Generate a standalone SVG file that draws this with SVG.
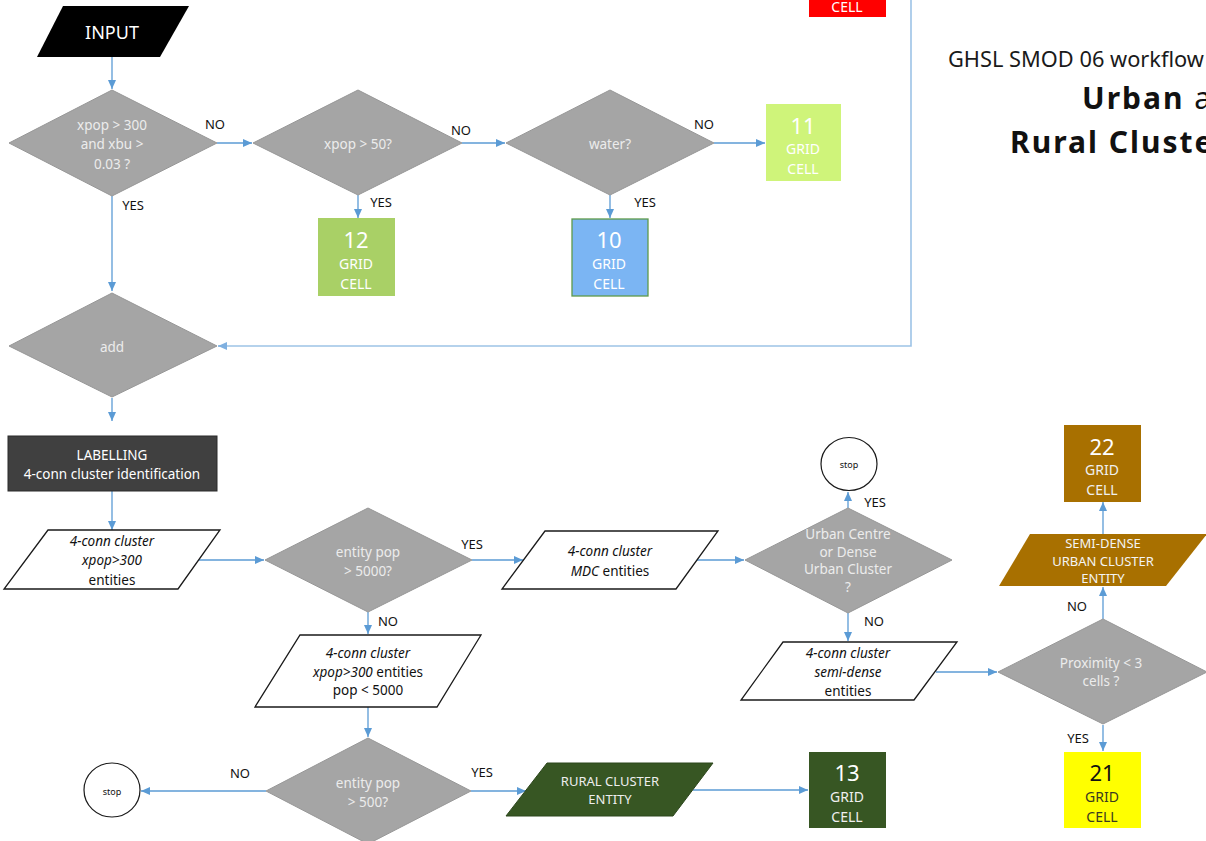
<svg xmlns="http://www.w3.org/2000/svg" width="1206" height="841" viewBox="0 0 1206 841">
  <style>
    text { font-family: "Noto Sans", "Open Sans", sans-serif; dominant-baseline: central; text-anchor: middle; }
    .dia { fill: #a5a5a5; stroke: #979797; stroke-width: 1; }
    .dtx { fill: #ececec; font-size: 13.5px; }
    .io { fill: #ffffff; stroke: #1a1a1a; stroke-width: 1.3; }
    .iotx { fill: #111111; font-size: 13.5px; }
    .it { font-style: italic; }
    .lbl { fill: #111111; font-size: 13px; }
    .num { font-size: 22px; }
    .cell { font-size: 14px; }
    .wh { fill: #ffffff; }
    .edge { fill: none; stroke: #5b9bd5; stroke-width: 1.3; marker-end: url(#arr); }
    .loop { fill: none; stroke: #9dc3e6; stroke-width: 1.6; }
    .stop { fill: #ffffff; stroke: #1a1a1a; stroke-width: 1.2; }
    .stoptx { fill: #111111; font-size: 9px; }
    .head { text-anchor: start; font-size: 30px; letter-spacing: 2px; fill: #111111; }
  </style>
  <defs>
    <marker id="arr" markerUnits="userSpaceOnUse" markerWidth="9" markerHeight="8" refX="9" refY="4" orient="auto">
      <path d="M0,0 L9,4 L0,8 z" fill="#5b9bd5"/>
    </marker>
    <marker id="arrL" markerUnits="userSpaceOnUse" markerWidth="9" markerHeight="8" refX="9" refY="4" orient="auto">
      <path d="M0,0 L9,4 L0,8 z" fill="#7fb0e0"/>
    </marker>
  </defs>

  <rect width="1206" height="841" fill="#ffffff"/>

  <!-- title, running off the right edge -->
  <g id="title">
    <text x="948" y="58" style="text-anchor:start;font-size:21.8px;fill:#1a1a1a">GHSL SMOD 06 workflow</text>
    <text class="head" x="1082" y="97"><tspan font-weight="bold">Urban</tspan> and</text>
    <text class="head" x="1010" y="141" font-weight="bold">Rural Cluster</text>
  </g>

  <!-- connectors -->
  <g id="connectors">
    <path class="edge" d="M112,57 V89"/>
    <path class="edge" d="M217,143 H252"/>
    <path class="edge" d="M358,195 V218"/>
    <path class="edge" d="M462,143 H505"/>
    <path class="edge" d="M610,195 V218"/>
    <path class="edge" d="M714,143 H765"/>
    <path class="edge" d="M112,196 V291"/>
    <path class="loop" d="M911,0 V346 H226"/>
    <path d="M226,346 H218" stroke="#7fb0e0" stroke-width="1.6" marker-end="url(#arrL)"/>
    <path class="edge" d="M112,398 V421"/>
    <path class="edge" d="M112,491 V530"/>
    <path class="edge" d="M199,560 H264"/>
    <path class="edge" d="M472,560 H523"/>
    <path class="edge" d="M697,560 H744"/>
    <path class="edge" d="M848,508 V492"/>
    <path class="edge" d="M848,613 V641"/>
    <path class="edge" d="M936,672 H997"/>
    <path class="edge" d="M1103,619 V587"/>
    <path class="edge" d="M1103,534 V502"/>
    <path class="edge" d="M1103,725 V751"/>
    <path class="edge" d="M368,612 V634"/>
    <path class="edge" d="M368,707 V737"/>
    <path class="edge" d="M266,791 H141"/>
    <path class="edge" d="M471,791 H526"/>
    <path class="edge" d="M693,790 H808"/>
  </g>

  <!-- branch labels -->
  <g id="labels">
    <text class="lbl" x="215" y="124">NO</text>
    <text class="lbl" x="133" y="205">YES</text>
    <text class="lbl" x="461" y="130">NO</text>
    <text class="lbl" x="381" y="202">YES</text>
    <text class="lbl" x="704" y="124">NO</text>
    <text class="lbl" x="645" y="202">YES</text>
    <text class="lbl" x="472" y="544">YES</text>
    <text class="lbl" x="388" y="621">NO</text>
    <text class="lbl" x="875" y="502">YES</text>
    <text class="lbl" x="874" y="621">NO</text>
    <text class="lbl" x="1077" y="606">NO</text>
    <text class="lbl" x="1078" y="738">YES</text>
    <text class="lbl" x="240" y="773">NO</text>
    <text class="lbl" x="482" y="772">YES</text>
  </g>

  <g id="input">
    <polygon points="63,6 189,6 160,57 37,57" fill="#000000"/>
    <text x="112" y="32" class="wh" style="font-size:18px">INPUT</text>
  </g>

  <g id="cell-red">
    <rect x="809" y="-60" width="77" height="77" fill="#ff0000"/>
    <text x="847" y="6" class="wh cell">CELL</text>
  </g>

  <g id="dec-xpop300">
    <polygon class="dia" points="9,143 112,90 217,143 112,196"/>
    <text class="dtx" x="112" y="125">xpop &gt; 300</text>
    <text class="dtx" x="112" y="144">and xbu &gt;</text>
    <text class="dtx" x="112" y="164">0.03 ?</text>
  </g>

  <g id="dec-xpop50">
    <polygon class="dia" points="253,143 358,90 462,143 358,195"/>
    <text class="dtx" x="358" y="144">xpop &gt; 50?</text>
  </g>

  <g id="dec-water">
    <polygon class="dia" points="506,143 610,90 714,143 610,195"/>
    <text class="dtx" x="610" y="144">water?</text>
  </g>

  <g id="cell-11">
    <rect x="766" y="104" width="75" height="77" fill="#cff47a"/>
    <text x="803" y="125" class="wh num">11</text>
    <text x="803" y="148" class="wh cell">GRID</text>
    <text x="803" y="168" class="wh cell">CELL</text>
  </g>

  <g id="cell-12">
    <rect x="318" y="218" width="77" height="78" fill="#a9d066"/>
    <text x="356" y="239" class="wh num">12</text>
    <text x="356" y="263" class="wh cell">GRID</text>
    <text x="356" y="283" class="wh cell">CELL</text>
  </g>

  <g id="cell-10">
    <rect x="572" y="219" width="76" height="77" fill="#7bb5f3" stroke="#5e9a4a" stroke-width="1.3"/>
    <text x="609" y="239" class="wh num">10</text>
    <text x="609" y="263" class="wh cell">GRID</text>
    <text x="609" y="283" class="wh cell">CELL</text>
  </g>

  <g id="dec-add">
    <polygon class="dia" points="9,346 112,293 217,346 112,397"/>
    <text class="dtx" x="112" y="347">add</text>
  </g>

  <g id="labelling">
    <rect x="8" y="436" width="209" height="55" fill="#404040" stroke="#2a2a2a" stroke-width="1"/>
    <text x="112" y="455" class="wh" style="font-size:13.5px">LABELLING</text>
    <text x="112" y="474" class="wh" style="font-size:13.5px">4-conn cluster identification</text>
  </g>

  <g id="io-xpop300">
    <polygon class="io" points="48,530 220,530 178,589 4,589"/>
    <text class="iotx it" x="112" y="541">4-conn cluster</text>
    <text class="iotx it" x="112" y="560">xpop&gt;300</text>
    <text class="iotx" x="112" y="580">entities</text>
  </g>

  <g id="dec-pop5000">
    <polygon class="dia" points="265,560 368,508 472,560 368,612"/>
    <text class="dtx" x="368" y="552">entity pop</text>
    <text class="dtx" x="368" y="571">&gt; 5000?</text>
  </g>

  <g id="io-mdc">
    <polygon class="io" points="545,531 718,531 676,589 502,589"/>
    <text class="iotx it" x="610" y="551">4-conn cluster</text>
    <text class="iotx" x="610" y="571"><tspan font-style="italic">MDC</tspan> entities</text>
  </g>

  <g id="dec-ucdc">
    <polygon class="dia" points="745,560 848,508 952,560 848,613"/>
    <text class="dtx" x="848" y="534">Urban Centre</text>
    <text class="dtx" x="848" y="552">or Dense</text>
    <text class="dtx" x="848" y="569">Urban Cluster</text>
    <text class="dtx" x="848" y="587">?</text>
  </g>

  <g id="stop-top">
    <ellipse class="stop" cx="849" cy="464" rx="28" ry="26.5"/>
    <text class="stoptx" x="849" y="464">stop</text>
  </g>

  <g id="io-semidense">
    <polygon class="io" points="783,642 957,642 914,700 741,700"/>
    <text class="iotx it" x="848" y="653">4-conn cluster</text>
    <text class="iotx it" x="848" y="672">semi-dense</text>
    <text class="iotx" x="848" y="691">entities</text>
  </g>

  <g id="dec-proximity">
    <polygon class="dia" points="998,672 1103,619 1207,672 1103,724"/>
    <text class="dtx" x="1101" y="663">Proximity &lt; 3</text>
    <text class="dtx" x="1101" y="681">cells ?</text>
  </g>

  <g id="io-semidense-entity">
    <polygon points="1030,534 1207,534 1166,586 999,586" fill="#a87000"/>
    <text x="1103" y="543" style="fill:#f4f4f4;font-size:13px">SEMI-DENSE</text>
    <text x="1103" y="561" style="fill:#f4f4f4;font-size:13px">URBAN CLUSTER</text>
    <text x="1103" y="578" style="fill:#f4f4f4;font-size:13px">ENTITY</text>
  </g>

  <g id="cell-22">
    <rect x="1064" y="425" width="77" height="77" fill="#a87000"/>
    <text x="1102" y="446" class="wh num">22</text>
    <text x="1102" y="469" style="fill:#f0f0f0;font-size:14px">GRID</text>
    <text x="1102" y="489" style="fill:#f0f0f0;font-size:14px">CELL</text>
  </g>

  <g id="cell-21">
    <rect x="1064" y="752" width="77" height="76" fill="#ffff00"/>
    <text x="1102" y="772" class="num" style="fill:#111">21</text>
    <text x="1102" y="796" style="fill:#3a3a20;font-size:14px">GRID</text>
    <text x="1102" y="816" style="fill:#3a3a20;font-size:14px">CELL</text>
  </g>

  <g id="io-pop-lt-5000">
    <polygon class="io" points="300,635 481,635 437,707 255,707"/>
    <text class="iotx it" x="368" y="653">4-conn cluster</text>
    <text class="iotx" x="368" y="672"><tspan font-style="italic">xpop&gt;300</tspan> entities</text>
    <text class="iotx" x="368" y="690">pop &lt; 5000</text>
  </g>

  <g id="dec-pop500">
    <polygon class="dia" points="266,791 368,738 471,791 368,844"/>
    <text class="dtx" x="368" y="783">entity pop</text>
    <text class="dtx" x="368" y="802">&gt; 500?</text>
  </g>

  <g id="stop-bottom">
    <ellipse class="stop" cx="112" cy="790" rx="28" ry="27"/>
    <text class="stoptx" x="112" y="791">stop</text>
  </g>

  <g id="io-rural">
    <polygon points="547,763 713,763 673,816 506,816" fill="#375623" stroke="#2c461c" stroke-width="1"/>
    <text x="610" y="781" style="fill:#eeeeee;font-size:13px">RURAL CLUSTER</text>
    <text x="610" y="799" style="fill:#eeeeee;font-size:13px">ENTITY</text>
  </g>

  <g id="cell-13">
    <rect x="809" y="752" width="77" height="76" fill="#375623"/>
    <text x="847" y="772" class="wh num">13</text>
    <text x="847" y="796" style="fill:#f0f0f0;font-size:14px">GRID</text>
    <text x="847" y="816" style="fill:#f0f0f0;font-size:14px">CELL</text>
  </g>
</svg>
